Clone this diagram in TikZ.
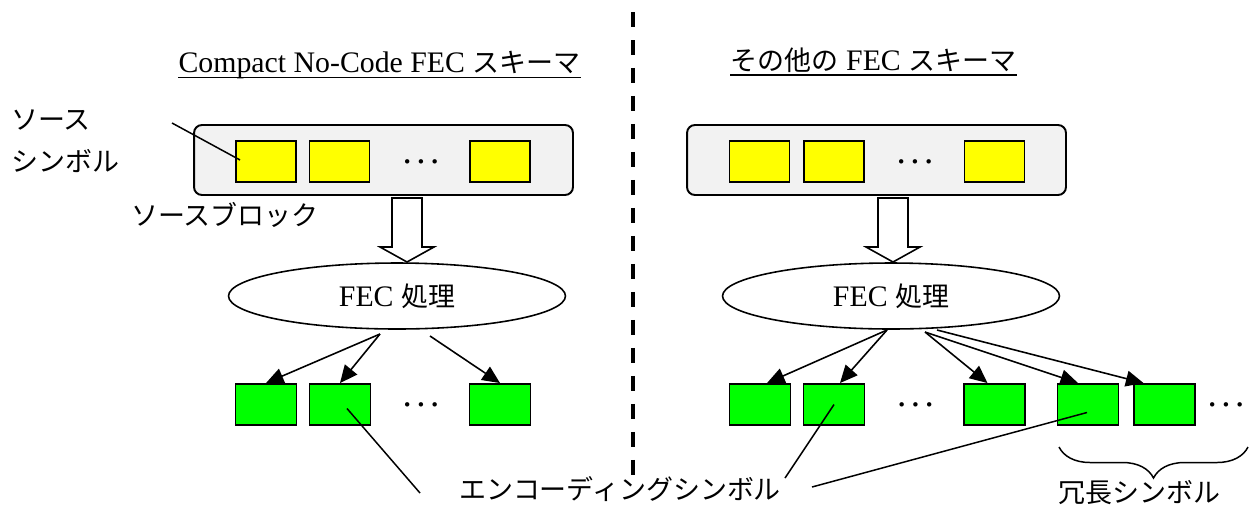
\documentclass[tikz,border=0pt]{standalone}
\usepackage{fontspec}
\setmainfont[Scale=1.06]{Liberation Serif}
\newfontfamily\jpfont[Scale=0.96]{Noto Sans CJK JP}
\newcommand{\jtxt}[1]{{\jpfont #1}}
\newcommand{\symdots}{{\fontsize{20}{20}\selectfont .\hspace{2.5pt}.\hspace{2.5pt}.}}
\definecolor{symyellow}{RGB}{255, 255, 0}
\definecolor{symgreen}{RGB}{0, 255, 0}
\definecolor{blockgray}{RGB}{242, 242, 242}
\usetikzlibrary{shapes, arrows.meta, positioning, calc, decorations.pathreplacing}

\begin{document}
\begin{tikzpicture}[
  x=0.02cm, y=-0.02cm,
  font=\fontsize{16}{19}\selectfont,
  blk/.style={draw, line width=1.1pt, rounded corners=4.5pt, fill=blockgray, minimum width=7.58cm, minimum height=1.4cm},
  ybox/.style={draw, line width=1.1pt, fill=symyellow, minimum width=1.2cm, minimum height=0.82cm, inner sep=0pt},
  gbox/.style={draw, line width=1.1pt, fill=symgreen, minimum width=1.22cm, minimum height=0.82cm, inner sep=0pt},
  proc/.style={draw, ellipse, line width=0.9pt, minimum width=6.74cm, minimum height=1.32cm, inner sep=0pt},
  fatarrow/.style={draw, line width=0.9pt, fill=white},
  emit/.style={-{Triangle[length=10pt, width=9pt]}, line width=0.9pt},
  leader/.style={line width=0.85pt},
  uline/.style={line width=1.1pt}
]
  \useasboundingbox (0,0) rectangle (1250,508);

  % separator
  \draw[line width=2.3pt, dash pattern=on 0.3cm off 0.26cm] (633,12) -- (633,475);

  % titles
  \node[anchor=base, inner sep=0pt] (titL) at (379.5,72) {Compact No-Code FEC \jtxt{スキーマ}};
  \node[anchor=base, inner sep=0pt] (titR) at (873.5,70) {\jtxt{その他の} FEC \jtxt{スキーマ}};
  \draw[uline] ($(titL.base west)+(0,5.5)$) -- ($(titL.base east)+(0,5.5)$);
  \draw[uline] ($(titR.base west)+(0,5)$) -- ($(titR.base east)+(0,5)$);

  % source blocks
  \node[blk] (srcL) at (383.5,160) {};
  \node[blk] (srcR) at (876.5,160) {};
  \node[ybox] (ysL1) at (266,161.5) {};
  \node[ybox] (ysL2) at (339.5,161.5) {};
  \node (ydL) at (421,161.5) {\symdots};
  \node[ybox] (ysL3) at (500,161.5) {};
  \node[ybox] (ysR1) at (759.5,161.5) {};
  \node[ybox] (ysR2) at (834,161.5) {};
  \node (ydR) at (915,161.5) {\symdots};
  \node[ybox] (ysR3) at (994.5,161.5) {};

  \node[anchor=west, align=left, inner sep=0pt] (symlab) at (11,141) {\jtxt{ソース}\\[5pt]\jtxt{シンボル}};
  \coordinate (symend) at (172,123);
  \draw[leader] (symend) -- ($(ysL1.west)+(5,-1.5)$);
  \node[anchor=west, inner sep=0pt] (blklab) at (131,215) {\jtxt{ソースブロック}};

  % block arrows
  \coordinate (fL) at (407,198);
  \coordinate (fR) at (893,198);
  \draw[fatarrow] ($(fL)+(-15,0)$) -- ++(0,49) -- ++(-12,0) -- ++(27,15) -- ++(27,-15) -- ++(-12,0) -- ++(0,-49) -- cycle;
  \draw[fatarrow] ($(fR)+(-15,0)$) -- ++(0,49) -- ++(-12,0) -- ++(27,15) -- ++(27,-15) -- ++(-12,0) -- ++(0,-49) -- cycle;

  % FEC
  \node[proc] (ellL) at (397,296) {FEC \jtxt{処理}};
  \node[proc] (ellR) at (891,296) {FEC \jtxt{処理}};

  % encoding symbols
  \node[gbox] (gL1) at (266,404.5) {};
  \node[gbox] (gL2) at (340,404.5) {};
  \node (gdL) at (421,404.5) {\symdots};
  \node[gbox] (gL3) at (500,404.5) {};
  \node[gbox] (gR1) at (760,404.5) {};
  \node[gbox] (gR2) at (834,404.5) {};
  \node (gdR) at (915.5,404.5) {\symdots};
  \node[gbox] (gR3) at (994.5,404.5) {};
  \node[gbox] (gR4) at (1088,404.5) {};
  \node[gbox] (gR5) at (1164.5,404.5) {};
  \node (gdR2) at (1226,404.5) {\symdots};

  \coordinate (oL1) at (380,334);
  \coordinate (oL2) at (430,336);
  \coordinate (oR1) at (887,330);
  \coordinate (oR2) at (925,332);
  \coordinate (oR3) at (937,330);
  \draw[emit] (oL1) -- (gL1.north);
  \draw[emit] (oL1) -- (gL2.north);
  \draw[emit] (oL2) -- (gL3.north);
  \draw[emit] (oR1) -- ($(gR1.north)+(7,0)$);
  \draw[emit] (oR1) -- ($(gR2.north)+(6,0)$);
  \draw[emit] (oR2) -- ($(gR3.north)+(-7,0)$);
  \draw[emit] (oR2) -- ($(gR4.north)+(-10,0)$);
  \draw[emit] (oR3) -- ($(gR5.north)+(-21,0)$);

  % labels
  \node[inner sep=0pt] (enc) at (620,489) {\jtxt{エンコーディングシンボル}};
  \coordinate (encA) at (420,493);
  \coordinate (encB) at (785,478);
  \coordinate (encC) at (812,487);
  \draw[leader] ($(gL2.center)+(7,4)$) -- (encA);
  \draw[leader] (gR2.center) -- (encB);
  \draw[leader] ($(gR4.center)+(-1,8)$) -- (encC);

  \draw[leader, decorate, decoration={brace, amplitude=0.62cm}] (1248,447) -- (1059,447);
  \node[inner sep=0pt] (red) at (1139.5,493) {\jtxt{冗長シンボル}};
\end{tikzpicture}
\end{document}
